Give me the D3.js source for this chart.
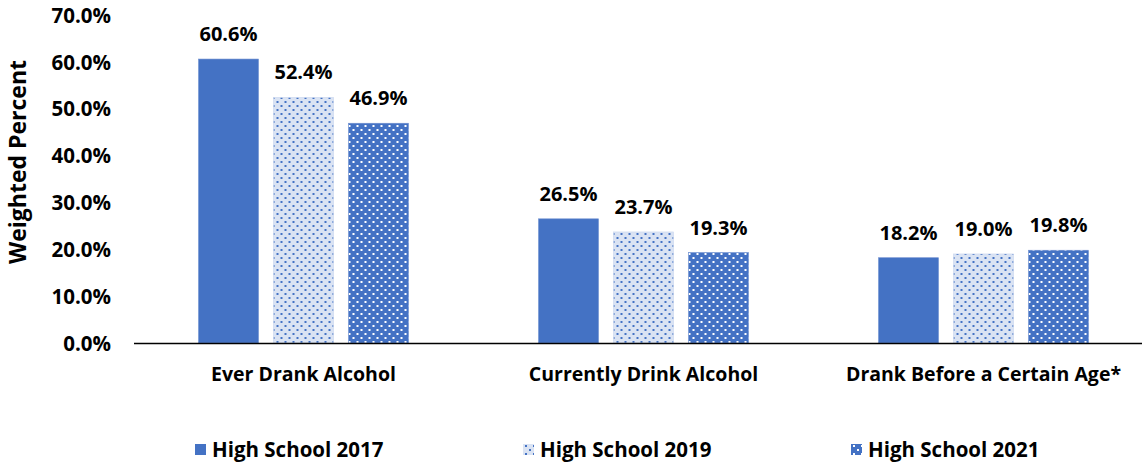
<!DOCTYPE html>
<html><head><meta charset="utf-8">
<script src="https://cdn.jsdelivr.net/npm/d3@7"></script>
<style>body{margin:0;background:#fff}svg{display:block}text{font-family:"Open Sans",Lato,sans-serif;font-weight:bold;fill:#000}</style>
</head><body><svg id="c" width="1142" height="466"></svg>
<script>
const categories = ["Ever Drank Alcohol", "Currently Drink Alcohol", "Drank Before a Certain Age*"];
const seriesNames = ["High School 2017", "High School 2019", "High School 2021"];
const hs2017 = [60.6, 26.5, 18.2];
const hs2019 = [52.4, 23.7, 19.0];
const hs2021 = [46.9, 19.3, 19.8];
const yTicks = [0, 10, 20, 30, 40, 50, 60, 70];

const series = [hs2017, hs2019, hs2021];
const svg = d3.select("#c");
const defs = svg.append("defs");
const blue = "#4472c4", light = "#dae3f3";
function pat(id, bg, dot) {
  const p = defs.append("pattern").attr("id", id).attr("patternUnits", "userSpaceOnUse").attr("width", 8).attr("height", 8);
  p.append("rect").attr("width", 8).attr("height", 8).attr("fill", bg);
  p.append("rect").attr("x", 1).attr("y", 1).attr("width", 2).attr("height", 2).attr("fill", dot);
  p.append("rect").attr("x", 5).attr("y", 5).attr("width", 2).attr("height", 2).attr("fill", dot);
}
pat("p2019", light, blue);
pat("p2021", blue, "#fff");
const fills = [blue, "url(#p2019)", "url(#p2021)"];

const y = d3.scaleLinear().domain([0, 70]).range([343, 15]);
const x0 = d3.scaleBand().domain(categories).range([133.5, 1153.5]);
const x1 = d3.scaleBand().domain(seriesNames).range([-105, 105]).paddingInner(0.2).paddingOuter(0);

// y axis labels
const ya = svg.append("g").attr("transform", "translate(111,0)")
  .call(d3.axisLeft(y).tickValues(yTicks).tickFormat(d => d.toFixed(1) + "%").tickSize(0).tickPadding(0));
ya.select(".domain").remove();
ya.selectAll("text").style("font-size", "20.5px").style("font-family", null).attr("dy", "0.35em");

const g = svg.append("g");
categories.forEach((c, ci) => {
  const gc = g.append("g").attr("transform", `translate(${x0(c) + x0.bandwidth() / 2},0)`);
  seriesNames.forEach((s, si) => {
    const v = series[si][ci];
    gc.append("rect").attr("x", x1(s)).attr("width", x1.bandwidth())
      .attr("y", y(v)).attr("height", y(0) - y(v)).attr("fill", fills[si])
      .attr("stroke", si === 1 ? "#c9d6ee" : "#6f8fd0").attr("stroke-width", 0.6);
    gc.append("text").attr("x", x1(s) + x1.bandwidth() / 2).attr("y", y(v) - 18)
      .attr("text-anchor", "middle").style("font-size", "20px").text(v.toFixed(1) + "%");
  });
});

// x axis
const xa = svg.append("g").attr("transform", "translate(0,343)")
  .call(d3.axisBottom(x0).tickSize(0).tickPadding(24));
xa.select(".domain").attr("stroke", "#000").attr("stroke-width", 1.5);
xa.selectAll("text").style("font-size", "19.5px").style("font-family", null);

svg.append("text").attr("transform", "translate(26,162) rotate(-90)").attr("text-anchor", "middle")
  .style("font-size", "23px").text("Weighted Percent");

// legend
const legX = [195, 523, 851];
const leg = svg.append("g");
seriesNames.forEach((s, i) => {
  leg.append("rect").attr("x", legX[i]).attr("y", 444).attr("width", 11).attr("height", 11).attr("fill", fills[i]);
  leg.append("text").attr("x", legX[i] + 17).attr("y", 457).style("font-size", "20.5px").text(s);
});
</script></body></html>
